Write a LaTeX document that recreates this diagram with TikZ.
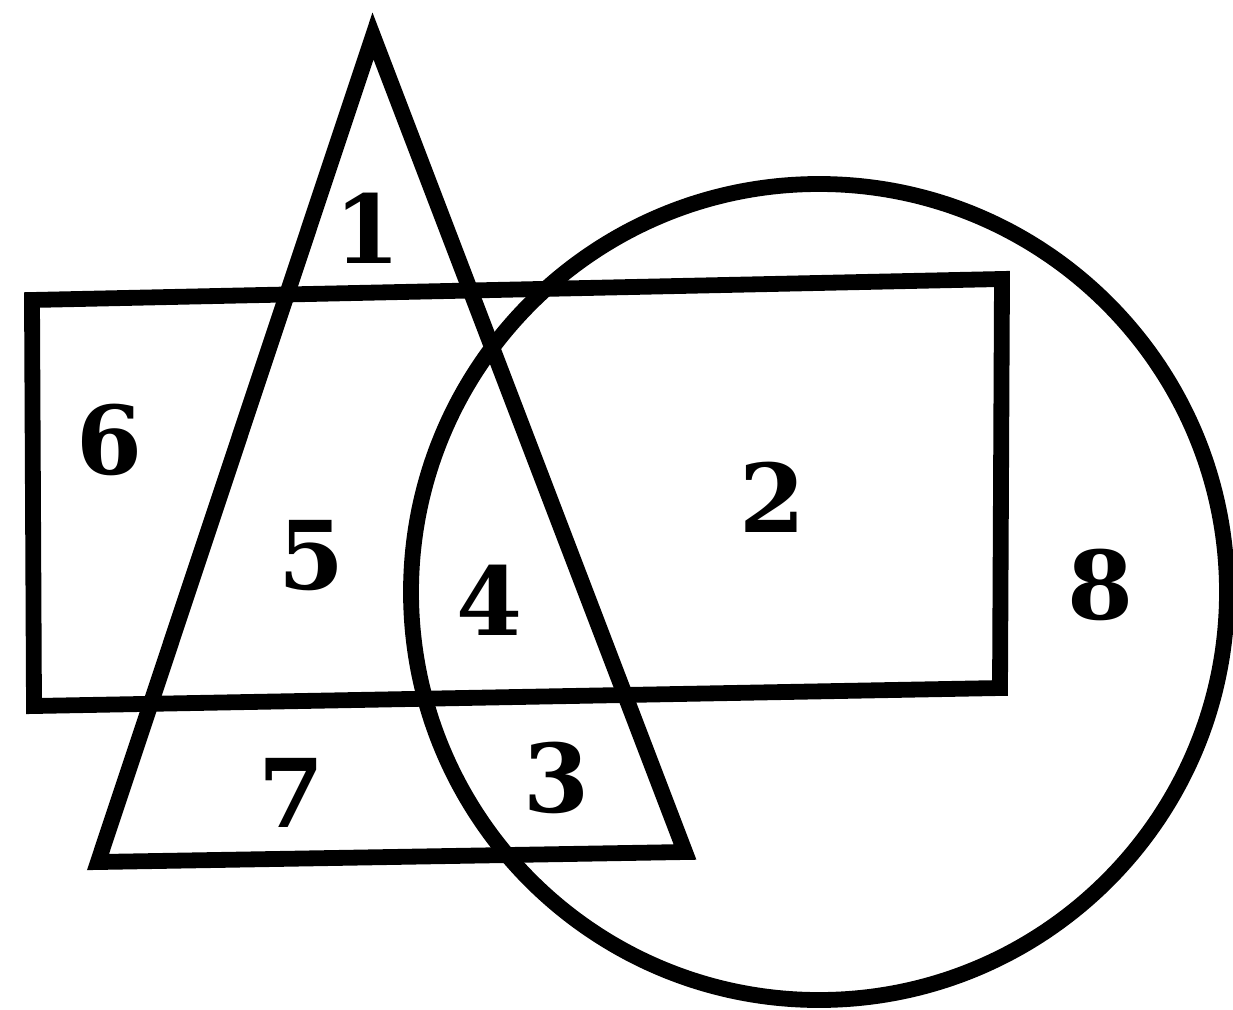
\documentclass[tikz,border=0pt]{standalone}
\usepackage{fontspec}
\setmainfont{DejaVu Serif}
\usepackage{tikz}
\usetikzlibrary{positioning, calc}

\begin{document}
\begin{tikzpicture}[
      x=0.02cm, y=-0.02cm,
      region/.style={font=\fontsize{54}{60}\selectfont\bfseries, inner sep=0pt},
      outline/.style={line width=9pt, line join=miter}
    ]
      \useasboundingbox (0,0) rectangle (1233,1010);
      % triangle corners
      \coordinate (top) at (373,36);
      \coordinate (tl) at (98,862);
      \coordinate (tr) at (685,852);
      % rectangle corners
      \coordinate (r1) at (32,300);
      \coordinate (r2) at (1002,279);
      \coordinate (r3) at (1000,688);
      \coordinate (r4) at (34,706);
      \draw[outline] (top) -- (tr) -- (tl) -- cycle;
      \draw[outline] (r1) -- (r2) -- (r3) -- (r4) -- cycle;
      \draw[outline] (819,592) circle [radius=408];
      \node[region] (n1) at (368,228) {1};
      \node[region] (n6) at (110,440) {6};
      \node[region] (n5) at (312,556) {5};
      \node[region] (n4) at (490,600) {4};
      \node[region] (n2) at (772,497) {2};
      \node[region] (n8) at (1100,585) {8};
      \node[region] (n7) at (292,793) {7};
      \node[region] (n3) at (556,778) {3};
    \end{tikzpicture}
\end{document}
